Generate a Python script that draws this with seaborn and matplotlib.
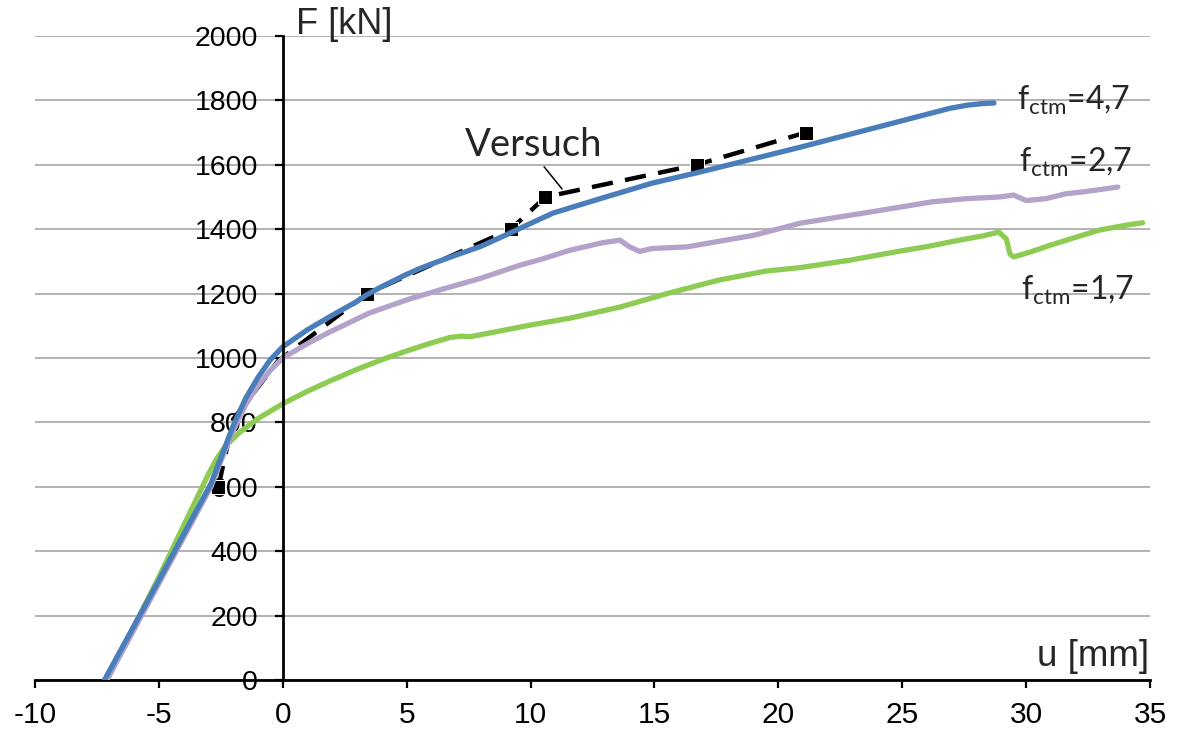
import matplotlib
matplotlib.use("Agg")
import matplotlib.pyplot as plt
import seaborn as sns

# ---------------- data ----------------
blue_u = [-7.2, -5.0, -2.9, -2.5, -2.0, -1.5, -1.0, -0.5, 0.0, 1.0, 2.0, 3.0, 3.4, 4.0, 5.0,
          5.5, 6.0, 7.0, 8.0, 9.0, 10.0, 10.9, 12.9, 14.9, 16.7, 18.8, 20.9, 22.9, 24.9,
          26.0, 26.9, 27.6, 28.2, 28.7]
blue_F = [0, 310, 610, 690, 790, 875, 940, 995, 1035, 1088, 1133, 1176, 1197, 1222, 1260,
          1277, 1292, 1320, 1347, 1382, 1418, 1450, 1497, 1543, 1575, 1615, 1655, 1695, 1735,
          1757, 1775, 1785, 1790, 1792]

purple_u = [-7.1, -5.0, -2.9, -2.5, -2.0, -1.5, -1.0, -0.5, 0.0, 1.0, 1.9, 3.5, 5.1, 6.5,
            8.0, 9.6, 10.4, 11.6, 12.9, 13.6, 14.0, 14.4, 14.9, 16.3, 19.0, 20.9, 23.6,
            26.2, 27.6, 28.9, 29.5, 30.0, 30.8, 31.6, 32.4, 33.7]
purple_F = [0, 300, 600, 680, 775, 855, 915, 962, 1000, 1045, 1081, 1140, 1183, 1215,
            1248, 1289, 1306, 1335, 1358, 1366, 1345, 1331, 1340, 1345, 1381, 1419, 1452,
            1485, 1495, 1500, 1506, 1489, 1495, 1510, 1517, 1531]

green_u = [-7.1, -5.0, -3.0, -2.66, -2.3, -1.73, -1.0, 0.0, 1.0, 2.0, 3.0, 4.0, 5.0, 6.0,
           6.75, 7.2, 7.55, 8.5, 9.97, 11.6, 13.6, 15.5, 17.6, 19.5, 20.9, 22.9, 24.9, 26.0,
           27.3, 28.3, 28.9, 29.2, 29.35, 29.5, 30.2, 31.0, 32.0, 33.0, 34.0, 34.7]
green_F = [0, 320, 640, 688, 728, 770, 812, 858, 897, 932, 965, 995, 1022, 1047,
           1064, 1068, 1066, 1080, 1102, 1124, 1158, 1200, 1242, 1270, 1281, 1304, 1332, 1346,
           1366, 1380, 1391, 1370, 1322, 1314, 1330, 1351, 1375, 1398, 1412, 1420]

test_u = [-2.6, -2.0, -0.2, 3.4, 9.2, 10.6, 16.7, 21.1]
test_F = [600, 810, 990, 1200, 1400, 1500, 1600, 1700]
test_marked = [0, 3, 4, 5, 6, 7]

x_ticks = [-10, -5, 0, 5, 10, 15, 20, 25, 30, 35]
y_ticks = [0, 200, 400, 600, 800, 1000, 1200, 1400, 1600, 1800, 2000]

labels = [r"$\mathregular{f_{ctm}}$=4,7", r"$\mathregular{f_{ctm}}$=2,7", r"$\mathregular{f_{ctm}}$=1,7"]
label_pos = [(29.65, 1801), (29.72, 1606), (29.8, 1211)]

# ---------------- style ----------------
sns.set_style("white")
plt.rcParams["font.family"] = ["Liberation Sans", "DejaVu Sans"]

fig = plt.figure(figsize=(11.8, 7.29), dpi=100)
ax = fig.add_axes([0.0297, 0.0672, 0.9449, 0.8834])

c_blue = "#4A7EBB"
c_purple = "#B3A2C9"
c_green = "#8DCB52"

sns.lineplot(x=test_u, y=test_F, ax=ax, sort=False, estimator=None, color="black",
             linewidth=3.2, linestyle=(0, (4.8, 2.8)), marker="s", markersize=10,
             markevery=test_marked, zorder=2)
sns.lineplot(x=green_u, y=green_F, ax=ax, sort=False, estimator=None, color=c_green,
             linewidth=3.8, zorder=3)
sns.lineplot(x=purple_u, y=purple_F, ax=ax, sort=False, estimator=None, color=c_purple,
             linewidth=3.8, zorder=3)
sns.lineplot(x=blue_u, y=blue_F, ax=ax, sort=False, estimator=None, color=c_blue,
             linewidth=3.8, zorder=4)
for ln in ax.lines:
    ln.set_solid_joinstyle("round")
    ln.set_solid_capstyle("round")

ax.set_xlim(-10, 35)
ax.set_ylim(0, 2000)
ax.set_xticks(x_ticks)
ax.set_yticks(y_ticks)
ax.set_xticklabels([str(v) for v in x_ticks])
ax.set_yticklabels([str(v) for v in y_ticks])

for s in ["top", "right"]:
    ax.spines[s].set_visible(False)
ax.spines["left"].set_position(("data", 0))
ax.spines["left"].set_linewidth(2.0)
ax.spines["bottom"].set_linewidth(2.0)
ax.spines["left"].set_color("black")
ax.spines["bottom"].set_color("black")
ax.spines["left"].set_zorder(5)

ax.tick_params(axis="y", direction="out", length=6, width=1.6, pad=12,
               labelsize=20.5, colors="black", left=True)
ax.tick_params(axis="x", direction="out", length=6, width=1.6, pad=9,
               labelsize=21.5, colors="black", bottom=True)

ax.yaxis.grid(True, color="#A6A6A6", linewidth=1.2)
ax.xaxis.grid(False)
ax.set_axisbelow(True)
ax.set_xlabel("")
ax.set_ylabel("")

ax.text(0.55, 2036, "F [kN]", fontsize=26, ha="left", va="center", clip_on=False)
ax.text(34.95, 72, "u [mm]", fontsize=26.5, ha="right", va="center")

ax.annotate("Versuch", xy=(11.27, 1525), xytext=(10.14, 1660),
            fontsize=27.5, family=["Lato", "DejaVu Sans"], ha="center", va="center",
            arrowprops=dict(arrowstyle="-", color="black", lw=1.1,
                            shrinkA=0, shrinkB=0, relpos=(0.49, 0.3)))

for lab, (lx, ly) in zip(labels, label_pos):
    ax.text(lx, ly, lab, fontsize=23, family=["Lato", "DejaVu Sans"],
            ha="left", va="center", clip_on=False)

fig.savefig("out.png", dpi=100)
